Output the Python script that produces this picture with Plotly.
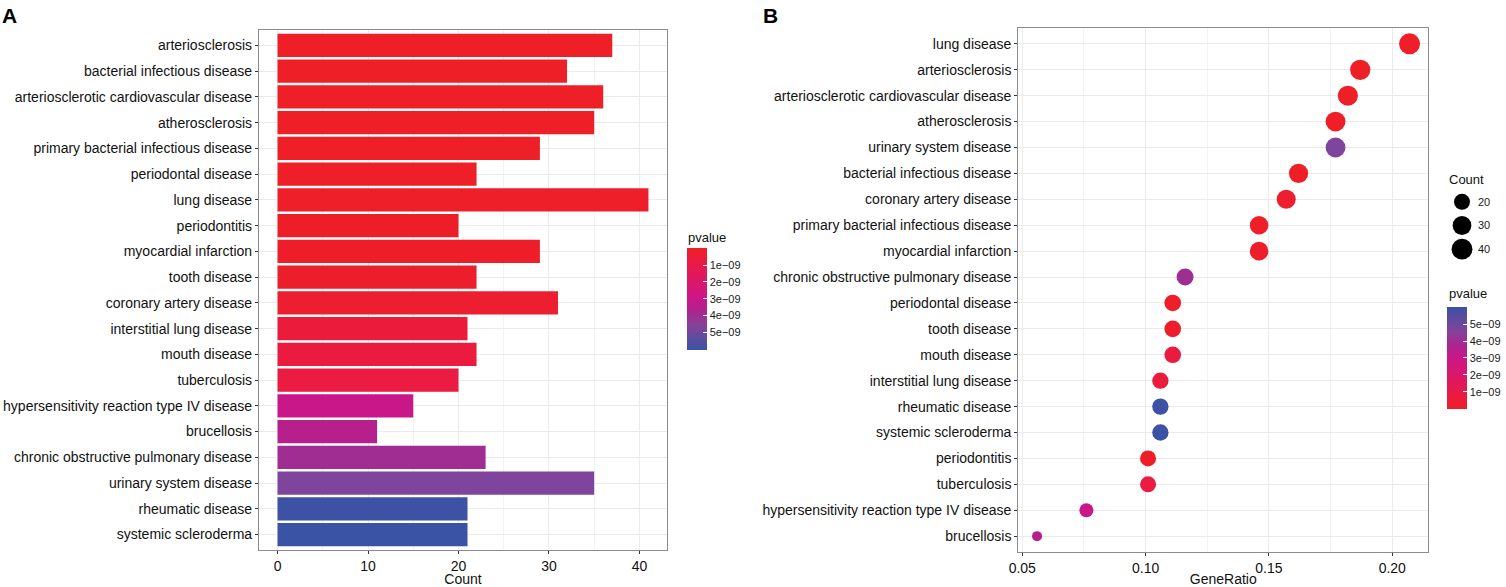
import plotly.graph_objects as go

W, H = 1506, 587
FONT = "Liberation Sans, Arial, Helvetica, sans-serif"

# enrichment terms, in bar-plot order (top to bottom)
terms = [
    "arteriosclerosis",
    "bacterial infectious disease",
    "arteriosclerotic cardiovascular disease",
    "atherosclerosis",
    "primary bacterial infectious disease",
    "periodontal disease",
    "lung disease",
    "periodontitis",
    "myocardial infarction",
    "tooth disease",
    "coronary artery disease",
    "interstitial lung disease",
    "mouth disease",
    "tuberculosis",
    "hypersensitivity reaction type IV disease",
    "brucellosis",
    "chronic obstructive pulmonary disease",
    "urinary system disease",
    "rheumatic disease",
    "systemic scleroderma",
]
counts = [37, 32, 36, 35, 29, 22, 41, 20, 29, 22, 31, 21, 22, 20, 15, 11, 23, 35, 21, 21]
gene_ratio = [0.187, 0.162, 0.182, 0.177, 0.146, 0.111, 0.207, 0.101, 0.146, 0.111,
              0.157, 0.106, 0.111, 0.101, 0.076, 0.056, 0.116, 0.177, 0.106, 0.106]
pvalues = [3.2e-12, 8.5e-12, 1.4e-11, 1.9e-11, 2.7e-11, 4.8e-11, 6.1e-11, 9.8e-11, 1.3e-10, 1.9e-10,
           2.6e-10, 6.4e-10, 7.4e-10, 7.8e-10, 3.1e-09, 3.5e-09, 4.0e-09, 4.7e-09, 6.0e-09, 6.05e-09]

# dot-plot order (top to bottom)
dot_order = [
    "lung disease",
    "arteriosclerosis",
    "arteriosclerotic cardiovascular disease",
    "atherosclerosis",
    "urinary system disease",
    "bacterial infectious disease",
    "coronary artery disease",
    "primary bacterial infectious disease",
    "myocardial infarction",
    "chronic obstructive pulmonary disease",
    "periodontal disease",
    "tooth disease",
    "mouth disease",
    "interstitial lung disease",
    "rheumatic disease",
    "systemic scleroderma",
    "periodontitis",
    "tuberculosis",
    "hypersensitivity reaction type IV disease",
    "brucellosis",
]

size_keys = [20, 30, 40]
p_ticks = [1e-09, 2e-09, 3e-09, 4e-09, 5e-09]
p_ticktext = ["1e\u221209", "2e\u221209", "3e\u221209", "4e\u221209", "5e\u221209"]

red_blue = [[0.0, "#EE1F26"], [0.15, "#EA1A45"], [0.5, "#CC1689"],
            [0.62, "#AC248F"], [0.76, "#84439A"], [1.0, "#3A53A4"]]
blue_red = [[1 - s, c] for s, c in reversed(red_blue)]


def fx(px):
    return px / W


def fy(py):
    return 1 - py / H


def dot_size(c):
    lo, hi = min(counts), max(counts)
    return 10 + 11 * ((c - lo) / (hi - lo)) ** 0.5


fig = go.Figure()

fig.add_trace(go.Bar(
    x=counts, y=terms, orientation="h",
    marker=dict(color=[-p for p in pvalues], coloraxis="coloraxis", line=dict(width=0)),
    xaxis="x", yaxis="y"))

fig.add_trace(go.Scatter(
    x=gene_ratio, y=terms, mode="markers",
    marker=dict(size=[dot_size(c) for c in counts], color=pvalues,
                coloraxis="coloraxis2", line=dict(width=0), opacity=1),
    xaxis="x2", yaxis="y2"))

# size legend ("Count")
fig.add_trace(go.Scatter(
    x=[0] * len(size_keys), y=[str(k) for k in size_keys], mode="markers",
    marker=dict(size=[dot_size(k) for k in size_keys], color="#000000",
                line=dict(width=0), opacity=1),
    xaxis="x3", yaxis="y3"))

tick_font = dict(family=FONT, size=14, color="#111111")
frame = dict(showline=True, linecolor="#8C8C8C", linewidth=1.2, mirror=True, zeroline=False,
             ticks="outside", ticklen=3, tickcolor="#333333", tickfont=tick_font,
             showgrid=True, gridcolor="#EBEBEB", gridwidth=1, automargin=False)

bar_cb = dict(x=fx(686.7), xanchor="left", y=fy(299.2), yanchor="middle",
              len=101.7, lenmode="pixels", thickness=20, thicknessmode="pixels",
              xpad=0, ypad=0, outlinewidth=0, tickmode="array",
              tickvals=[-t for t in p_ticks], ticktext=p_ticktext,
              ticks="inside", ticklen=4, tickcolor="white",
              tickfont=dict(family=FONT, size=11, color="#1A1A1A"))
dot_cb = dict(bar_cb, x=fx(1447.3), y=fy(357.5), tickvals=p_ticks)

fig.update_layout(
    width=W, height=H, margin=dict(l=0, r=0, t=0, b=0, autoexpand=False),
    paper_bgcolor="white", plot_bgcolor="white", showlegend=False,
    font=dict(family=FONT, color="#111111"),
    bargap=0.1,
    xaxis=dict(frame, domain=[fx(259), fx(667)], range=[-2.05, 43.05],
               tick0=0, dtick=10, anchor="y",
               minor=dict(dtick=5, showgrid=True, gridcolor="#F3F3F3", gridwidth=0.7),
               title=dict(text="Count", font=dict(family=FONT, size=14), standoff=2)),
    yaxis=dict(frame, domain=[fy(550), fy(30)], type="category",
               categoryorder="array", categoryarray=terms[::-1],
               range=[-0.6, len(terms) - 0.4], anchor="x"),
    xaxis2=dict(frame, domain=[fx(1018.3), fx(1428.3)], range=[0.0484, 0.2146],
                tick0=0.05, dtick=0.05, tickformat=".2f", anchor="y2",
                minor=dict(dtick=0.025, showgrid=True, gridcolor="#F3F3F3", gridwidth=0.7),
                title=dict(text="GeneRatio", font=dict(family=FONT, size=14), standoff=2)),
    yaxis2=dict(frame, domain=[fy(551.7), fy(28.3)], type="category",
                categoryorder="array", categoryarray=dot_order[::-1],
                range=[-0.6, len(dot_order) - 0.4], anchor="x2"),
    xaxis3=dict(domain=[fx(1447), fx(1477)], range=[-1, 1], visible=False, anchor="y3"),
    yaxis3=dict(domain=[fy(261), fy(190)], type="category",
                categoryorder="array", categoryarray=[str(k) for k in size_keys],
                range=[len(size_keys) - 0.5, -0.5], side="right", anchor="x3",
                showgrid=False, zeroline=False, showline=False, ticks="", automargin=False,
                tickfont=dict(family=FONT, size=11, color="#1A1A1A")),
    coloraxis=dict(colorscale=blue_red, cmin=-max(pvalues), cmax=-min(pvalues), colorbar=bar_cb),
    coloraxis2=dict(colorscale=red_blue, cmin=min(pvalues), cmax=max(pvalues), colorbar=dot_cb),
    annotations=[
        dict(text="<b>A</b>", x=0, y=fy(2), xref="paper", yref="paper", xanchor="left",
             yanchor="top", showarrow=False, font=dict(family=FONT, size=21, color="black")),
        dict(text="<b>B</b>", x=fx(761), y=fy(2), xref="paper", yref="paper", xanchor="left",
             yanchor="top", showarrow=False, font=dict(family=FONT, size=21, color="black")),
        dict(text="pvalue", x=fx(686), y=fy(237), xref="paper", yref="paper", xanchor="left",
             yanchor="middle", showarrow=False, font=dict(family=FONT, size=13)),
        dict(text="pvalue", x=fx(1447), y=fy(294), xref="paper", yref="paper", xanchor="left",
             yanchor="middle", showarrow=False, font=dict(family=FONT, size=13)),
        dict(text="Count", x=fx(1447), y=fy(179), xref="paper", yref="paper", xanchor="left",
             yanchor="middle", showarrow=False, font=dict(family=FONT, size=13)),
    ],
)

# drop the browser's default 8px body margin so the figure sits at the page corner
fig.write_html("out.html", config={"displayModeBar": False},
               post_script="document.body.style.margin='0';document.body.style.overflow='hidden';")
